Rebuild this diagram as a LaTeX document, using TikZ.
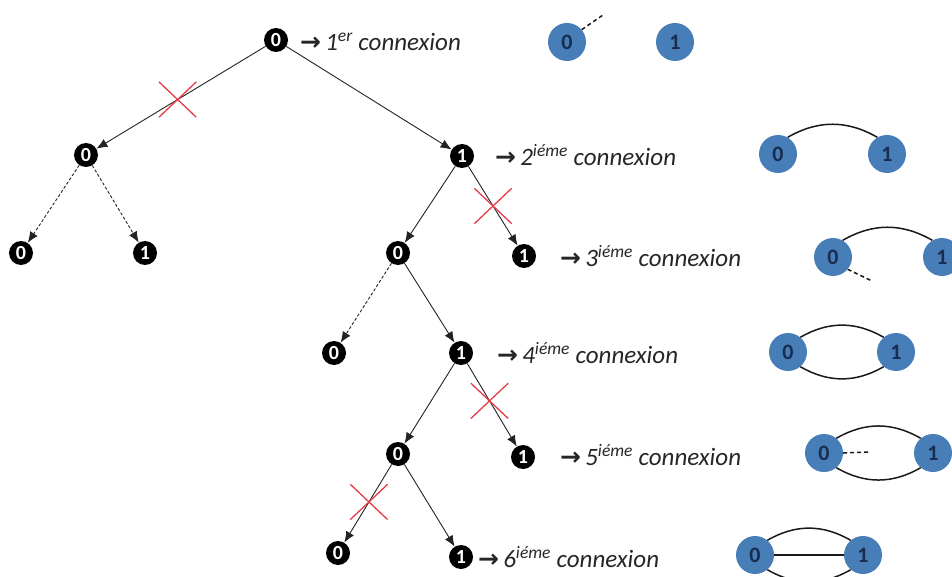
\documentclass[tikz,border=0pt]{standalone}
\usepackage{fontspec}
\setmainfont{Carlito}
\newfontfamily\symfont{DejaVu Sans}
\usetikzlibrary{arrows.meta,shapes.misc}
\definecolor{bluenode}{RGB}{72,126,184}
\definecolor{bluetext}{RGB}{25,45,80}
\definecolor{crossred}{RGB}{228,60,72}
\definecolor{edgegray}{RGB}{35,35,35}
\tikzset{
  tnode/.style={circle,fill=black,inner sep=0pt,minimum size=24pt,text=white,font=\fontsize{20}{20}\selectfont\bfseries},
  bnode/.style={circle,fill=bluenode,inner sep=0pt,minimum size=38pt,text=bluetext,font=\fontsize{22}{22}\selectfont\bfseries},
  tedge/.style={draw=edgegray,line width=0.9pt,-{Latex[length=11pt,width=9pt]}},
  dedge/.style={tedge,dash pattern=on 3pt off 2pt},
  xmark/.style={cross out,draw=crossred,line width=1.3pt,minimum width=36pt,minimum height=34pt,inner sep=0pt},
  lbl/.style={anchor=west,inner sep=0pt,font=\fontsize{25}{25}\selectfont\itshape,text=black!85},
  link/.style={draw=black!90,line width=1.5pt},
  dlink/.style={link,dash pattern=on 4pt off 3pt},
}
\newcommand{\arr}{{\upshape\symfont\bfseries →}\,}
\begin{document}
\begin{tikzpicture}[x=1pt,y=-1pt]
\useasboundingbox (0,0) rectangle (952,577);
% tree nodes
\node[tnode] (r) at (276,40) {0};
\node[tnode] (a0) at (86,155) {0};
\node[tnode] (a1) at (462,156) {1};
\node[tnode] (b0) at (21,253) {0};
\node[tnode] (b1) at (145,253) {1};
\node[tnode] (c0) at (398,253) {0};
\node[tnode] (c1) at (524,256) {1};
\node[tnode] (d0) at (334,353) {0};
\node[tnode] (d1) at (461,353) {1};
\node[tnode] (e0) at (398,454) {0};
\node[tnode] (e1) at (523,457) {1};
\node[tnode] (f0) at (338,553) {0};
\node[tnode] (f1) at (461,557) {1};
% tree edges
\draw[tedge] (r) -- (a0) node[pos=0.52,xmark] (x1) {};
\draw[tedge] (r) -- (a1);
\draw[dedge] (a0) -- (b0);
\draw[dedge] (a0) -- (b1);
\draw[tedge] (a1) -- (c0);
\draw[tedge] (a1) -- (c1) node[pos=0.5,xmark] (x2) {};
\draw[dedge] (c0) -- (d0);
\draw[tedge] (c0) -- (d1);
\draw[tedge] (d1) -- (e0);
\draw[tedge] (d1) -- (e1) node[pos=0.45,xmark] (x3) {};
\draw[tedge] (e0) -- (f0) node[pos=0.48,xmark] (x4) {};
\draw[tedge] (e0) -- (f1);
% labels
\node[lbl] (l1) at (300,42) {\arr 1\textsuperscript{er} connexion};
\node[lbl] (l2) at (495,155) {\arr 2\textsuperscript{iéme} connexion};
\node[lbl] (l3) at (560,256) {\arr 3\textsuperscript{iéme} connexion};
\node[lbl] (l4) at (497,353) {\arr 4\textsuperscript{iéme} connexion};
\node[lbl] (l5) at (560,455) {\arr 5\textsuperscript{iéme} connexion};
\node[lbl] (l6) at (478,557) {\arr 6\textsuperscript{iéme} connexion};
% row 1
\node[bnode] (p0) at (567,42) {0};
\node[bnode] (p1) at (675,42) {1};
\coordinate (p0e) at (603,15);
\draw[dlink] (p0.40) -- (p0e);
% row 2
\node[bnode] (q0) at (778,154) {0};
\node[bnode] (q1) at (887,154) {1};
\draw[link] (q0.60) to[out=30,in=150] (q1.120);
% row 3
\node[bnode] (s0) at (833,257) {0};
\node[bnode] (s1) at (942,257) {1};
\coordinate (s0e) at (872,281);
\draw[link] (s0.60) to[out=30,in=150] (s1.120);
\draw[dlink] (s0.-40) -- (s0e);
% row 4
\node[bnode] (t0) at (788,352) {0};
\node[bnode] (t1) at (896,352) {1};
\draw[link] (t0.50) to[out=30,in=150] (t1.130);
\draw[link] (t0.-50) to[out=-30,in=-150] (t1.-130);
% row 5
\node[bnode] (u0) at (824,453) {0};
\node[bnode] (u1) at (933,453) {1};
\coordinate (u0e) at (870,452);
\draw[link] (u0.50) to[out=30,in=150] (u1.130);
\draw[link] (u0.-50) to[out=-30,in=-150] (u1.-130);
\draw[dlink] (u0.east) -- (u0e);
% row 6
\node[bnode] (v0) at (755,555) {0};
\node[bnode] (v1) at (863,555) {1};
\draw[link] (v0.50) to[out=30,in=150] (v1.130);
\draw[link] (v0.-50) to[out=-30,in=-150] (v1.-130);
\draw[link] (v0) -- (v1);
\end{tikzpicture}
\end{document}
